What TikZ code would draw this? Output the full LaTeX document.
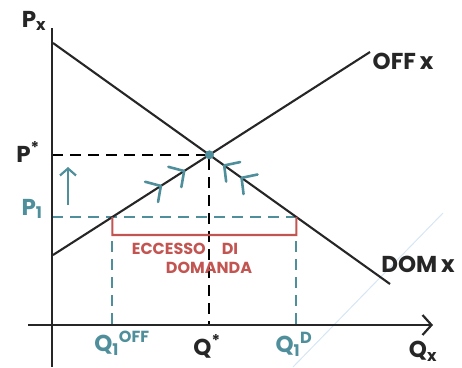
\documentclass[tikz,border=0pt]{standalone}
\usepackage{fontspec}
\setmainfont{Poppins}
\usepackage{tikz}
\usetikzlibrary{arrows.meta,positioning,calc,decorations.markings}
\definecolor{EqTeal}{HTML}{4F8F9B}
\definecolor{ExcessRed}{HTML}{C25552}
\definecolor{FaintBlue}{HTML}{D6E6F4}

\begin{document}
\begin{tikzpicture}[
  x=1pt, y=-1pt,
  axis/.style={line width=2.4pt, black!85},
  curve/.style={line width=2.1pt, black!85},
  guide/.style={line width=2.1pt, dash pattern=on 11pt off 7pt},
  lab/.style={font=\fontsize{23}{25}\selectfont\bfseries, text=black!85, inner sep=0pt},
  tlab/.style={lab, text=EqTeal},
  redtxt/.style={font=\fontsize{16}{18}\selectfont\bfseries, text=ExcessRed, inner sep=0pt},
  barb/.style={-{Straight Barb[length=9pt, width=20pt, line width=2.2pt]}},
  chevron/.style={EqTeal, line width=2.6pt, line cap=round, line join=round},
  chevrons/.style 2 args={postaction={decorate}, decoration={markings,
      mark=at position #1 with {\draw[chevron] (-11,12) -- (0,0) -- (-11,-12);},
      mark=at position #2 with {\draw[chevron] (-11,12) -- (0,0) -- (-11,-12);}}}
]
  \useasboundingbox (0,0) rectangle (462,367);

  % axes and curves
  \coordinate (O) at (52,325);
  \coordinate (ytop) at (52,28);
  \coordinate (ybot) at (52,367);
  \coordinate (xleft) at (28,325);
  \coordinate (xend) at (433,325);
  \coordinate (domA) at (53,43);
  \coordinate (domB) at (390,284);
  \coordinate (offA) at (53,255);
  \coordinate (offB) at (370,52);
  \coordinate (E) at (intersection of domA--domB and offA--offB);
  \coordinate (pL) at (52,217);
  \coordinate (pR) at (460,217);
  \coordinate (s1) at (intersection of offA--offB and pL--pR);
  \coordinate (d1) at (intersection of domA--domB and pL--pR);
  \coordinate (bL) at ($(s1)+(0,18)$);
  \coordinate (bR) at ($(d1)+(0,18)$);
  \coordinate (fa) at (443,213);
  \coordinate (fb) at (293,367);
  \coordinate (upA) at (68,205);
  \coordinate (upB) at (68,167);

  \draw[FaintBlue, line width=1pt] (fa) -- (fb);

  \draw[guide] (E -| O) -- (E) -- (E |- O);
  \draw[guide, EqTeal] (pL) -- (d1);
  \draw[guide, EqTeal] ($(bL)+(0,6)$) -- (bL |- O);
  \draw[guide, EqTeal] ($(bR)+(0,6)$) -- (bR |- O);

  \draw[curve] (domA) -- (domB);
  \draw[curve] (offA) -- (offB);
  \draw[axis] (ybot) -- (ytop);
  \draw[axis, barb] (xleft) -- (xend);

  \draw[ExcessRed, line width=2.1pt] (s1) -- (bL) -- (bR) -- (d1);

  \draw[EqTeal, line width=2.2pt, -{Straight Barb[length=7pt, width=16pt, line width=2.2pt]}] (upA) -- (upB);
  \path[chevrons={0.5}{0.74}] (s1) -- (E);
  \path[chevrons={0.63}{0.83}] (d1) -- (E);
  \fill[EqTeal] (E) circle (4.5pt);

  % labels
  \node[lab] (px) at (34,21) {P\textsubscript{x}};
  \node[lab] (pstar) at (28,152) {P\textsuperscript{*}};
  \node[tlab] (pone) at (32,209) {P\textsubscript{1}};
  \node[tlab] (qoff) at (122,343) {Q\textsubscript{1}\textsuperscript{OFF}};
  \node[lab] (qstar) at (207,346) {Q\textsuperscript{*}};
  \node[tlab] (qdom) at (294,344) {Q\textsubscript{1}\textsuperscript{D}};
  \node[lab] (qx) at (423,351) {Q\textsubscript{x}};
  \node[lab] (offx) at (403,61) {OFF\,x};
  \node[lab] (domx) at (418,264) {DOM\,x};
  \node[redtxt] (exc1) at (185,249) {ECCESSO\quad DI};
  \node[redtxt] (exc2) at (209,268) {DOMANDA};
\end{tikzpicture}
\end{document}
